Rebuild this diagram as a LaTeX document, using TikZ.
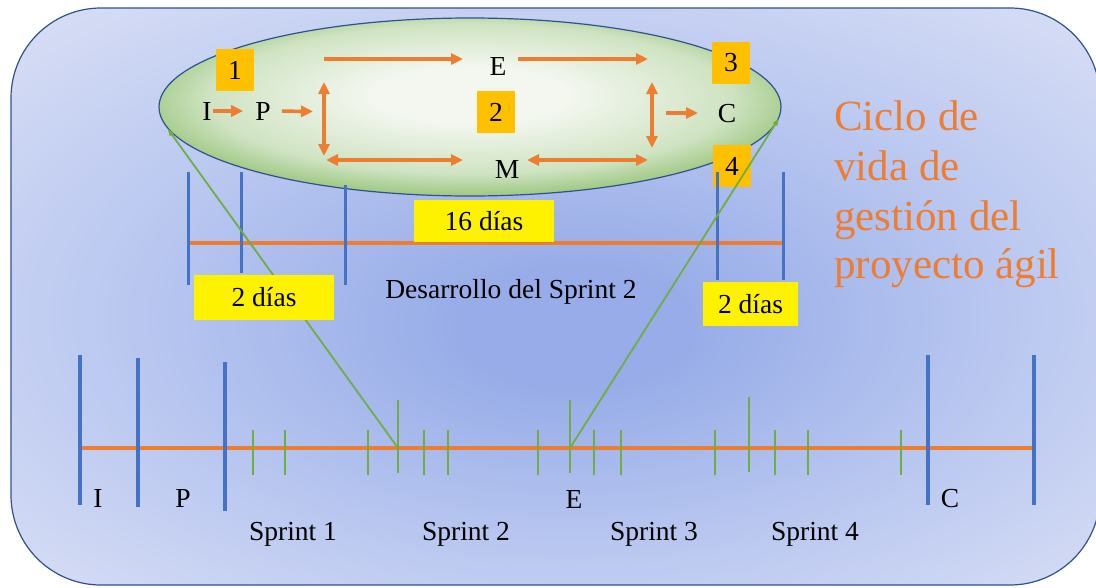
\documentclass[tikz,border=0pt]{standalone}
\usepackage{fontspec}
\setmainfont{Liberation Serif}
\usetikzlibrary{arrows.meta,shapes.geometric}
\definecolor{oran}{HTML}{ED7D31}
\definecolor{bluel}{HTML}{4472C4}
\definecolor{greenl}{HTML}{70AD47}
\definecolor{gold}{HTML}{FFC000}
\definecolor{edge}{HTML}{2F528F}
\definecolor{bgouter}{HTML}{D9DFF5}
\definecolor{bgmid}{HTML}{B9C7F0}
\definecolor{bginner}{HTML}{97ACE8}
\definecolor{elin}{HTML}{F3F7EF}
\definecolor{elmid}{HTML}{CFE3C2}
\definecolor{elout}{HTML}{7BB455}
\pgfdeclareradialshading{bgshade}{\pgfpoint{1bp}{-3bp}}{color(0bp)=(bginner); color(5bp)=(bginner); color(20bp)=(bgmid); color(36bp)=(bgouter); color(50bp)=(bgouter)}
\pgfdeclareradialshading{ellshade}{\pgfpoint{0bp}{4bp}}{color(0bp)=(elin); color(8bp)=(elin); color(21bp)=(elmid); color(31bp)=(elout); color(50bp)=(elout)}
\newcommand{\lblfont}{\fontsize{27.5}{31}\selectfont}
\newcommand{\ttlfont}{\fontsize{43}{49}\selectfont}
\begin{document}
\begin{tikzpicture}[x=1pt,y=-1pt,
  oarr/.style={draw=oran, line width=3.5pt, -{Triangle[length=12pt,width=11pt]}},
  odbl/.style={draw=oran, line width=3.5pt, {Triangle[length=12pt,width=11pt]}-{Triangle[length=12pt,width=11pt]}},
  bline/.style={draw=bluel, line width=3.5pt},
  oline/.style={draw=oran, line width=4pt},
  gtick/.style={draw=greenl, line width=2pt},
  gline/.style={draw=greenl, line width=1.8pt, -{Latex[length=8pt,width=6pt]}},
  numbox/.style={fill=gold, minimum width=38pt, minimum height=42pt, inner sep=0pt, font=\lblfont},
  ybox/.style={fill=yellow, inner sep=0pt, font=\lblfont},
  lbl/.style={font=\lblfont, inner sep=1pt, anchor=base},
  ttl/.style={font=\ttlfont, text=oran, inner sep=0pt, anchor=base west}]
\useasboundingbox (0,0) rectangle (1096,587);
% background panel
\shadedraw[shading=bgshade, draw=edge, line width=1.2pt, rounded corners=90pt] (11,8) rectangle (1100,585);
% ellipse
\node[ellipse, shade, shading=ellshade, draw=edge, line width=1.2pt, minimum width=622pt, minimum height=178pt, inner sep=0pt] (ell) at (470,107) {};
% number boxes
\node[numbox] (n1) at (235,70) {1};
\node[numbox] (n2) at (496,112) {2};
\node[numbox] (n3) at (731,63) {3};
\node[numbox] (n4) at (732,166) {4};
% letters in ellipse
\node[lbl] (nI) at (207,120) {I};
\node[lbl] (nP) at (263,120) {P};
\node[lbl] (nE) at (498,75) {E};
\node[lbl] (nC) at (727,122) {C};
\node[lbl] (nM) at (507,178) {M};
% arrow coordinates
\coordinate (j1) at (313,111.4);
\coordinate (tl) at (324,59);
\coordinate (te1) at (463,59);
\coordinate (te2) at (518,59);
\coordinate (tr) at (648,59);
\coordinate (lv1) at (324,82);
\coordinate (lv2) at (324,156);
\coordinate (bl1) at (326,160);
\coordinate (bl2) at (463,160);
\coordinate (br1) at (527,160);
\coordinate (br2) at (648,160);
\coordinate (rv1) at (652,82);
\coordinate (rv2) at (652,148);
\coordinate (rc1) at (666,113);
\coordinate (rc2) at (698,113);
\draw[oarr, shorten >=11pt] (nI) -- (nP);
\draw[oarr, shorten <=10pt] (nP) -- (j1);
\draw[oarr] (tl) -- (te1);
\draw[oarr] (te2) -- (tr);
\draw[odbl] (lv1) -- (lv2);
\draw[odbl] (bl1) -- (bl2);
\draw[odbl] (br1) -- (br2);
\draw[odbl] (rv1) -- (rv2);
\draw[oarr] (rc1) -- (rc2);
% middle timeline
\draw[oline, line width=3.5pt] (190,243) -- (783,243);
\draw[bline, line width=3pt] (188,172) -- (188,285);
\draw[bline, line width=3pt] (241,172) -- (241,273);
\draw[bline, line width=3pt] (345,185) -- (345,285);
\draw[bline, line width=3pt] (717,172) -- (717,280);
\draw[bline, line width=3pt] (783,172) -- (783,280);
% bottom timeline
\draw[oline, line width=4.5pt] (82,448) -- (1034,448);
\draw[bline, line width=4pt] (80,355) -- (80,505);
\draw[bline, line width=4pt] (138,358) -- (138,507);
\draw[bline, line width=4pt] (225,362) -- (225,511);
\draw[bline, line width=4pt] (928,355) -- (928,505);
\draw[bline, line width=4pt] (1034,355) -- (1034,505);
\foreach \tx in {253,285,368,424,448,538,594,621,715,775,808,901}
  \draw[gtick] (\tx,430) -- (\tx,475);
\foreach \tx in {398,570}
  \draw[gtick] (\tx,400) -- (\tx,473);
\draw[gtick] (749,397) -- (749,472);
\coordinate (s2) at (398,448);
\coordinate (s3) at (570,448);
\draw[gline] (s2) -- (ell.184);
\draw[gline] (s3) -- (ell.358);
% yellow boxes
\node[ybox, minimum width=140pt, minimum height=42pt] (b16) at (484,221) {16 días};
\node[ybox, minimum width=140pt, minimum height=45pt] (b2l) at (264,297.5) {2 días};
\node[ybox, minimum width=95pt, minimum height=44pt] (b2r) at (750.5,304) {2 días};
\node[lbl] (dev) at (511,298) {Desarrollo del Sprint 2};
% bottom labels
\node[lbl] (lI) at (98,507) {I};
\node[lbl] (lP) at (183,507) {P};
\node[lbl] (lE) at (574,508) {E};
\node[lbl] (lC) at (950,507) {C};
\node[lbl] (s1) at (293,540) {Sprint 1};
\node[lbl] (sp2) at (466,540) {Sprint 2};
\node[lbl] (sp3) at (654,540) {Sprint 3};
\node[lbl] (sp4) at (815,540) {Sprint 4};
% title
\node[ttl] (t1) at (834,130) {Ciclo de};
\node[ttl] (t2) at (834,180) {vida de};
\node[ttl] (t3) at (834,230) {gestión del};
\node[ttl] (t4) at (834,278) {proyecto ágil};
\end{tikzpicture}
\end{document}
